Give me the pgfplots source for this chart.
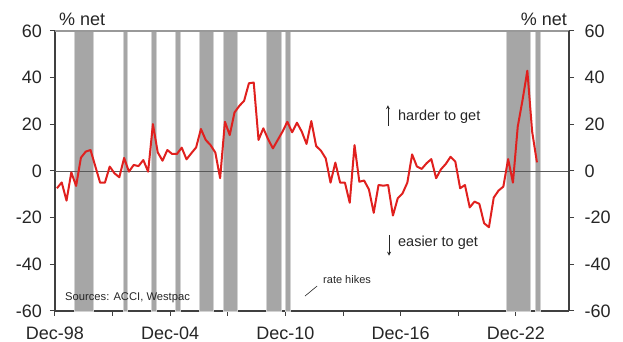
\documentclass[border=0pt]{standalone}
\usepackage{pgfplots}
\pgfplotsset{compat=1.18}
\usepackage{pgfplotstable}
\usepackage{fontspec}
\setmainfont{Liberation Sans}
\definecolor{linered}{HTML}{E0201E}
\definecolor{bargray}{HTML}{A6A6A6}
\definecolor{txt}{HTML}{262626}
\definecolor{axc}{HTML}{404040}
\pgfplotstableread{
x y
0.10 -7.4
0.35 -4.9
0.60 -12.7
0.85 -0.6
1.10 -6.4
1.35 5.7
1.60 8.3
1.85 9.0
2.10 2.0
2.35 -5.0
2.60 -5.0
2.85 1.9
3.10 -1.0
3.35 -2.7
3.60 5.6
3.85 -0.3
4.10 2.6
4.35 2.1
4.60 4.7
4.85 -0.3
5.10 20.1
5.35 8.0
5.60 4.4
5.85 9.0
6.10 7.3
6.35 7.3
6.60 10.0
6.85 5.0
7.10 7.6
7.35 10.1
7.60 18.0
7.85 13.3
8.10 11.1
8.35 7.9
8.60 -3.1
8.85 21.1
9.10 15.4
9.35 25.1
9.60 27.9
9.85 30.1
10.10 37.6
10.35 37.9
10.60 13.3
10.85 18.3
11.10 13.6
11.35 9.7
11.60 13.3
11.85 16.9
12.10 21.1
12.35 16.6
12.60 20.7
12.85 16.9
13.10 11.6
13.35 21.4
13.60 10.7
13.85 8.7
14.10 5.4
14.35 -5.0
14.60 3.6
14.85 -5.0
15.10 -5.0
15.35 -13.6
15.60 11.1
15.85 -4.6
16.10 -4.1
16.35 -7.9
16.60 -17.9
16.85 -6.0
17.10 -6.3
17.35 -6.0
17.60 -19.1
17.85 -11.7
18.10 -9.6
18.35 -5.0
18.60 7.1
18.85 1.9
19.10 0.9
19.35 3.3
19.60 5.1
19.85 -3.1
20.10 0.7
20.35 3.0
20.60 6.1
20.85 4.0
21.10 -7.4
21.35 -6.0
21.60 -15.6
21.85 -13.1
22.10 -14.1
22.35 -22.4
22.60 -24.1
22.85 -11.4
23.10 -8.4
23.35 -6.7
23.60 5.1
23.85 -5.0
24.10 19.0
24.35 30.4
24.60 43.0
24.85 16.9
25.10 3.7
}\loantab
\begin{document}
\begin{tikzpicture}[x=1pt,y=1pt]
\pgfplotsset{
  base/.style={
    scale only axis, width=514pt, height=280pt,
    xmin=0, xmax=26.77, ymin=-60, ymax=60,
    at={(0,0)}, anchor=south west,
    tick align=outside, major tick length=5pt,
    ytick={-60,-40,...,60},
    tick style={axc, line width=1pt},
    axis line style={axc, line width=1.2pt},
    /pgf/number format/assume math mode=true,
    tick label style={font=\fontsize{18}{20}\selectfont, text=txt},
  }
}
\begin{axis}[base, name=ax,
  axis x line*=bottom, axis y line*=left,
  xtick={0,3,...,24},
  xticklabels={Dec-98,,Dec-04,,Dec-10,,Dec-16,,Dec-22},
  yticklabel style={xshift=-4.5pt},
  xticklabel style={yshift=-7pt},
  clip=false,
]
% rate hike shading
\addplot[fill=bargray, draw=gray!35, line width=0.6pt] coordinates {(1.00,-60) (1.00,60) (2.02,60) (2.02,-60)} -- cycle;
\addplot[fill=bargray, draw=gray!35, line width=0.6pt] coordinates {(3.54,-60) (3.54,60) (3.76,60) (3.76,-60)} -- cycle;
\addplot[fill=bargray, draw=gray!35, line width=0.6pt] coordinates {(5.02,-60) (5.02,60) (5.26,60) (5.26,-60)} -- cycle;
\addplot[fill=bargray, draw=gray!35, line width=0.6pt] coordinates {(6.29,-60) (6.29,60) (6.53,60) (6.53,-60)} -- cycle;
\addplot[fill=bargray, draw=gray!35, line width=0.6pt] coordinates {(7.52,-60) (7.52,60) (8.27,60) (8.27,-60)} -- cycle;
\addplot[fill=bargray, draw=gray!35, line width=0.6pt] coordinates {(8.76,-60) (8.76,60) (9.51,60) (9.51,-60)} -- cycle;
\addplot[fill=bargray, draw=gray!35, line width=0.6pt] coordinates {(11.02,-60) (11.02,60) (11.76,60) (11.76,-60)} -- cycle;
\addplot[fill=bargray, draw=gray!35, line width=0.6pt] coordinates {(12.01,-60) (12.01,60) (12.25,60) (12.25,-60)} -- cycle;
\addplot[fill=bargray, draw=gray!35, line width=0.6pt] coordinates {(23.53,-60) (23.53,60) (24.73,60) (24.73,-60)} -- cycle;
\addplot[fill=bargray, draw=gray!35, line width=0.6pt] coordinates {(25.04,-60) (25.04,60) (25.27,60) (25.27,-60)} -- cycle;
% zero line
\addplot[color=gray!70!black, line width=0.8pt] coordinates {(0,0) (26.77,0)};
% data
\addplot[color=linered, line width=2pt, line join=round] table[x=x,y=y] {\loantab};
% top border
\draw[gray!80, line width=1.2pt] (rel axis cs:0,1) -- (rel axis cs:1,1);
% annotations
\draw[-stealth, txt, line width=0.8pt] (axis cs:17.34,19.3) -- (axis cs:17.34,28.2);
\node[anchor=west, text=txt, font=\fontsize{14.5}{17}\selectfont, inner sep=0pt] at (axis cs:17.86,23.1) {harder to get};
\draw[-stealth, txt, line width=0.8pt] (axis cs:17.40,-27.4) -- (axis cs:17.40,-36.3);
\node[anchor=west, text=txt, font=\fontsize{14.5}{17}\selectfont, inner sep=0pt] at (axis cs:17.86,-30.9) {easier to get};
\node[anchor=west, text=txt, font=\fontsize{11}{13}\selectfont, inner sep=0pt] at (axis cs:13.96,-46.7) {rate hikes};
\draw[txt, line width=0.6pt] (axis cs:13.02,-53.6) -- (axis cs:13.65,-49.3);
\node[anchor=west, text=txt, font=\fontsize{11.2}{13}\selectfont, inner sep=0pt] at (axis cs:0.52,-54.4) {Sources: ACCI, Westpac};
\node[anchor=west, text=txt, font=\fontsize{18}{20}\selectfont, inner sep=0pt] at (axis cs:0.21,65.1) {\% net};
\node[anchor=east, text=txt, font=\fontsize{18}{20}\selectfont, inner sep=0pt] at (axis cs:26.67,65.1) {\% net};
\end{axis}
\begin{axis}[base,
  axis x line=none, axis y line*=right,
  xtick=\empty,
  yticklabel style={xshift=7pt},
]
\addplot[draw=none] coordinates {(0,0)};
\end{axis}
\pgfresetboundingbox
\path (-55pt,-31pt) rectangle (568pt,311pt);
\end{tikzpicture}
\end{document}
